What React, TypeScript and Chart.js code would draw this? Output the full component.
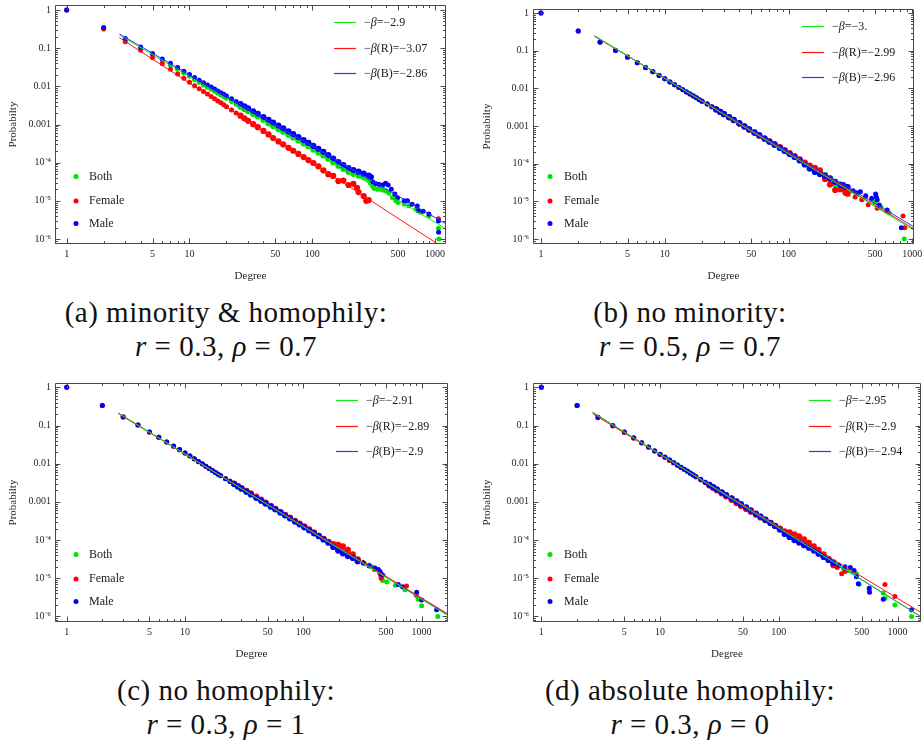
import { useEffect, useRef } from 'react';
import { Chart, registerables } from 'chart.js';

Chart.register(...registerables);

const FONT = '"Liberation Serif", serif';
const GREEN = 'rgb(0,226,0)';
const RED = 'rgb(255,0,0)';
const BLUE = 'rgb(0,0,255)';
const FIT_GREEN = 'rgb(20,230,20)';
const FIT_RED = 'rgb(255,20,20)';
const FIT_BLUE = 'rgb(50,50,255)';

const X_TICKS = [1, 5, 10, 50, 100, 500, 1000];
const X_TICK_LABELS = ['1', '5', '10', '50', '100', '500', '1000'];
const Y_TICKS = [1e-6, 1e-5, 1e-4, 0.001, 0.01, 0.1, 1];
const Y_TICK_LABELS = ['10\u207B\u2076', '10\u207B\u2075', '10\u207B\u2074', '0.001', '0.01', '0.1', '1'];
const SERIES_LABELS = ['Both', 'Female', 'Male'];

// shared degree grid for the dense body of every distribution
const K_GRID = [1, 2, 3, 4, 5, 6, 7, 8, 9, 10, 11, 12, 13, 14, 15, 16, 17, 18, 19, 20, 22, 24, 26, 28, 30, 33, 36, 40, 44, 48, 53, 58, 64, 70, 77, 85, 93, 102, 112, 123, 135, 148, 163, 179, 197, 216, 238, 262, 288];

// ---------- (a) minority & homophily ----------
const A_BOTH = [1.0, 0.33, 0.168, 0.10, 0.068, 0.047, 0.036, 0.028, 0.0223, 0.0183, 0.0149, 0.0126, 0.0109, 0.0095, 0.0084, 0.0074, 0.0066, 0.0059, 0.0054, 0.0049, 0.0040, 0.0034, 0.00293, 0.00255, 0.00225, 0.00189, 0.00162, 0.00133, 0.00108, 0.00092, 0.00076, 0.00065, 0.00054, 0.00046, 0.00038, 0.00032, 0.00027, 0.00022, 0.000184, 0.000154, 0.000126, 0.000102, 8.3e-5, 6.9e-5, 5.8e-5, 5.1e-5, 4.6e-5, 4.2e-5, 3.7e-5];
const A_FEMALE = [1.0, 0.32, 0.148, 0.088, 0.056, 0.039, 0.028, 0.021, 0.0163, 0.0128, 0.0104, 0.0087, 0.0073, 0.0063, 0.0054, 0.0047, 0.0041, 0.0037, 0.0033, 0.0029, 0.0024, 0.0020, 0.0017, 0.00145, 0.00125, 0.00102, 0.00085, 0.00068, 0.00055, 0.00044, 0.00036, 0.0003, 0.000245, 0.000205, 0.00017, 0.00014, 0.000117, 9.8e-5, 8.0e-5, 6.3e-5, 5.0e-5, 4.5e-5, 3.3e-5, 3.4e-5, 2.6e-5, 2.8e-5, 1.7e-5, 1.34e-5, 1.05e-5];
const A_MALE = [1.0, 0.35, 0.18, 0.107, 0.073, 0.052, 0.040, 0.031, 0.0248, 0.0203, 0.0171, 0.0145, 0.0125, 0.0109, 0.0096, 0.0085, 0.0076, 0.0068, 0.0062, 0.0056, 0.0047, 0.0040, 0.00345, 0.0030, 0.00265, 0.00222, 0.0019, 0.00157, 0.00132, 0.00112, 0.00093, 0.00079, 0.00066, 0.00056, 0.00047, 0.00039, 0.00033, 0.000275, 0.00023, 0.000192, 0.000158, 0.000128, 0.000104, 8.6e-5, 7.2e-5, 6.4e-5, 5.8e-5, 5.2e-5, 4.6e-5];
const A_BOTH_TAIL_K = [300, 310, 320, 340, 360, 380, 400, 420, 450, 480, 500, 560, 612, 700, 760, 890, 1065, 1075];
const A_BOTH_TAIL_P = [3.0e-5, 2.4e-5, 2.1e-5, 2.0e-5, 2.0e-5, 1.9e-5, 1.8e-5, 1.6e-5, 1.2e-5, 1.0e-5, 9.0e-6, 8.3e-6, 7.4e-6, 6.0e-6, 5.0e-6, 4.0e-6, 1.9e-6, 1.0e-6];
const A_FEMALE_TAIL_K = [231, 275, 1065];
const A_FEMALE_TAIL_P = [2.2e-5, 1.0e-5, 3.4e-6];
const A_MALE_TAIL_K = [300, 312, 330, 350, 375, 395, 415, 440, 470, 495, 560, 596, 650, 716, 730, 800, 890, 1065, 1068];
const A_MALE_TAIL_P = [4.2e-5, 3.1e-5, 2.8e-5, 2.7e-5, 2.6e-5, 2.9e-5, 2.6e-5, 2.0e-5, 1.5e-5, 1.2e-5, 1.0e-5, 1.0e-5, 8.2e-6, 7.3e-6, 5.5e-6, 5.3e-6, 4.5e-6, 2.95e-6, 1.5e-6];
const A_FIT_K = [2.69, 1343];
const A_FIT_FEMALE_K = [2.69, 1079];
const A_FIT_BOTH = [0.221, 1.56e-6];
const A_FIT_FEMALE = [0.188, 7.0e-7];
const A_FIT_MALE = [0.235, 2.1e-6];
const A_FIT_TEXT = ['\u22122.9', '\u22123.07', '\u22122.86'];

// ---------- (b) no minority ----------
const B_BOTH = [1.0, 0.335, 0.171, 0.1026, 0.0681, 0.0479, 0.0356, 0.0277, 0.022, 0.01795, 0.01486, 0.01247, 0.01064, 0.00918, 0.0080, 0.0071, 0.00632, 0.00564, 0.00505, 0.00457, 0.00387, 0.00325, 0.00277, 0.00239, 0.00208, 0.00172, 0.00145, 0.00118, 0.000975, 0.000818, 0.000673, 0.000562, 0.000462, 0.000386, 0.000321, 0.000263, 0.00022, 0.000182, 0.000152, 0.000126, 0.000105, 8.7e-5, 7.2e-5, 5.96e-5, 4.94e-5, 4.11e-5, 2.8e-5, 2.3e-5, 2.0e-5];
const B_FEMALE = [1.0, 0.335, 0.171, 0.1026, 0.0681, 0.0479, 0.0356, 0.0277, 0.022, 0.0179, 0.0148, 0.0124, 0.0106, 0.0091, 0.0080, 0.0071, 0.0063, 0.0056, 0.0050, 0.00455, 0.00385, 0.00323, 0.00275, 0.00237, 0.00206, 0.0017, 0.00143, 0.00116, 0.00096, 0.00080, 0.00066, 0.00055, 0.00046, 0.00039, 0.00033, 0.000275, 0.00023, 0.00019, 0.000158, 0.00013, 0.000107, 8.9e-5, 7.7e-5, 6.6e-5, 3.9e-5, 2.8e-5, 2.0e-5, 2.1e-5, 1.7e-5];
const B_MALE = [1.0, 0.335, 0.168, 0.101, 0.067, 0.0475, 0.0353, 0.0275, 0.0219, 0.0179, 0.0148, 0.0124, 0.0106, 0.0092, 0.0080, 0.0071, 0.0063, 0.0056, 0.0050, 0.00456, 0.00386, 0.00325, 0.00277, 0.00239, 0.00208, 0.00173, 0.00146, 0.00119, 0.00098, 0.00082, 0.00068, 0.00057, 0.000465, 0.000385, 0.00032, 0.000262, 0.000218, 0.00018, 0.00015, 0.000122, 9.5e-5, 7.4e-5, 6.0e-5, 5.3e-5, 4.8e-5, 4.0e-5, 3.3e-5, 2.8e-5, 2.4e-5];
const B_BOTH_TAIL_K = [320, 360, 420, 470, 500, 560, 650, 860];
const B_BOTH_TAIL_P = [1.9e-5, 1.6e-5, 1.3e-5, 1.1e-5, 9.5e-6, 7.0e-6, 5.0e-6, 1.0e-6];
const B_FEMALE_TAIL_K = [300, 345, 390, 440, 520, 620, 841, 870];
const B_FEMALE_TAIL_P = [1.6e-5, 1.3e-5, 1.1e-5, 8.1e-6, 6.5e-6, 5.5e-6, 4.1e-6, 2.0e-6];
const B_MALE_TAIL_K = [276, 300, 332, 352, 380, 420, 470, 505, 512, 520, 540, 625, 815];
const B_MALE_TAIL_P = [2.7e-5, 2.4e-5, 1.9e-5, 1.7e-5, 1.8e-5, 1.4e-5, 1.2e-5, 1.57e-5, 1.3e-5, 1.1e-5, 8.0e-6, 5.9e-6, 2.0e-6];
const B_FIT_K = [2.71, 1031];
const B_FIT_BOTH = [0.25, 1.7e-6];
const B_FIT_FEMALE = [0.245, 1.85e-6];
const B_FIT_MALE = [0.24, 2.1e-6];
const B_FIT_TEXT = ['\u22123.', '\u22122.99', '\u22122.96'];

// ---------- (c) no homophily ----------
const C_BOTH = [1.0, 0.335, 0.168, 0.1033, 0.0676, 0.049, 0.037, 0.0287, 0.0232, 0.019, 0.0158, 0.0133, 0.01127, 0.0098, 0.00859, 0.00743, 0.00662, 0.00594, 0.00535, 0.00485, 0.00406, 0.00344, 0.00295, 0.00256, 0.00225, 0.00187, 0.00159, 0.0013, 0.00109, 0.00092, 0.000764, 0.000644, 0.000533, 0.00045, 0.000376, 0.000311, 0.000262, 0.000219, 0.000184, 0.000154, 0.000129, 0.000108, 9.0e-5, 7.55e-5, 6.3e-5, 5.3e-5, 4.39e-5, 3.66e-5, 3.06e-5];
const C_FEMALE = [1.0, 0.335, 0.168, 0.103, 0.0675, 0.049, 0.037, 0.0287, 0.0232, 0.019, 0.0158, 0.0133, 0.0113, 0.0098, 0.0086, 0.0075, 0.0067, 0.006, 0.0054, 0.0049, 0.0041, 0.0035, 0.003, 0.0026, 0.0023, 0.00195, 0.00167, 0.00137, 0.00114, 0.00095, 0.00079, 0.00066, 0.00054, 0.00046, 0.00039, 0.00032, 0.00027, 0.000228, 0.000192, 0.000158, 0.000129, 0.000108, 9.0e-5, 7.8e-5, 7.5e-5, 6.8e-5, 5.5e-5, 4.2e-5, 3.1e-5];
const C_MALE = [1.0, 0.335, 0.167, 0.103, 0.0676, 0.049, 0.0372, 0.029, 0.0234, 0.0192, 0.016, 0.0134, 0.0114, 0.0099, 0.0086, 0.0075, 0.0066, 0.0059, 0.0053, 0.0048, 0.00403, 0.0034, 0.00292, 0.00253, 0.00222, 0.00185, 0.00157, 0.00128, 0.00107, 0.00091, 0.00075, 0.00064, 0.00053, 0.000445, 0.00037, 0.000305, 0.000258, 0.000216, 0.00018, 0.00015, 0.000126, 0.000104, 8.5e-5, 6.6e-5, 5.3e-5, 4.5e-5, 3.8e-5, 3.4e-5, 2.8e-5];
const C_BOTH_TAIL_K = [330, 380, 440, 468, 508, 600, 723, 935, 1000, 1370];
const C_BOTH_TAIL_P = [2.4e-5, 2.0e-5, 1.4e-5, 8.7e-6, 8.0e-6, 6.5e-6, 5.0e-6, 2.8e-6, 1.9e-6, 1.0e-6];
const C_FEMALE_TAIL_K = [321, 360, 400, 450, 455, 745, 900];
const C_FEMALE_TAIL_P = [2.6e-5, 2.2e-5, 1.7e-5, 1.2e-5, 1.0e-5, 6.3e-6, 3.6e-6];
const C_MALE_TAIL_K = [321, 360, 403, 430, 445, 455, 470, 635, 690, 908, 1000, 1339];
const C_MALE_TAIL_P = [2.5e-5, 2.1e-5, 1.85e-5, 1.7e-5, 1.5e-5, 1.3e-5, 1.2e-5, 6.8e-6, 6.0e-6, 4.3e-6, 2.7e-6, 1.5e-6];
const C_FIT_K = [2.73, 1671];
const C_FIT_BOTH = [0.213, 1.05e-6];
const C_FIT_FEMALE = [0.205, 1.15e-6];
const C_FIT_MALE = [0.21, 1.1e-6];
const C_FIT_TEXT = ['\u22122.91', '\u22122.89', '\u22122.9'];

// ---------- (d) absolute homophily ----------
const D_BOTH = [1.0, 0.335, 0.164, 0.099, 0.0675, 0.0474, 0.0352, 0.0272, 0.0216, 0.0176, 0.0147, 0.0124, 0.0106, 0.0092, 0.00805, 0.00711, 0.00634, 0.00566, 0.00509, 0.00461, 0.00385, 0.00325, 0.00278, 0.00241, 0.00211, 0.00175, 0.00148, 0.00121, 0.00101, 0.000849, 0.000701, 0.00059, 0.000488, 0.000409, 0.000341, 0.000282, 0.000237, 0.000197, 0.000165, 0.000137, 0.000115, 9.6e-5, 7.98e-5, 6.65e-5, 5.55e-5, 4.63e-5, 3.83e-5, 3.19e-5, 2.66e-5];
const D_FEMALE = [1.0, 0.335, 0.16, 0.097, 0.066, 0.0465, 0.0346, 0.0268, 0.0213, 0.0174, 0.0145, 0.0122, 0.0104, 0.009, 0.0079, 0.007, 0.0062, 0.0055, 0.005, 0.0045, 0.00376, 0.00317, 0.0027, 0.00233, 0.00203, 0.00167, 0.0014, 0.00113, 0.00093, 0.00078, 0.00065, 0.00055, 0.00046, 0.00039, 0.00033, 0.000278, 0.000236, 0.000198, 0.00017, 0.00016, 0.00014, 0.000125, 0.000105, 8.4e-5, 6.8e-5, 5.5e-5, 4.2e-5, 3.2e-5, 2.2e-5];
const D_MALE = [1.0, 0.335, 0.165, 0.1, 0.068, 0.0478, 0.0355, 0.0275, 0.0218, 0.0178, 0.0149, 0.0126, 0.0107, 0.0093, 0.0081, 0.0072, 0.0064, 0.0057, 0.0051, 0.00465, 0.00389, 0.00328, 0.0028, 0.00243, 0.00213, 0.00177, 0.0015, 0.00123, 0.00103, 0.00087, 0.00072, 0.0006, 0.000495, 0.000412, 0.000342, 0.00028, 0.000233, 0.000188, 0.000145, 0.00012, 0.0001, 8.6e-5, 7.3e-5, 6.3e-5, 5.3e-5, 4.4e-5, 3.6e-5, 3.0e-5, 2.5e-5];
const D_BOTH_TAIL_K = [320, 350, 380, 420, 450, 475, 577, 757, 783, 949, 1310];
const D_BOTH_TAIL_P = [2.1e-5, 1.8e-5, 1.6e-5, 1.5e-5, 1.3e-5, 7.0e-6, 4.9e-6, 4.1e-6, 3.0e-6, 2.0e-6, 1.0e-6];
const D_FEMALE_TAIL_K = [310, 338, 360, 783, 949];
const D_FEMALE_TAIL_P = [1.9e-5, 1.3e-5, 1.5e-5, 6.8e-6, 3.3e-6];
const D_MALE_TAIL_K = [320, 360, 400, 430, 450, 467, 577, 580, 757, 1310];
const D_MALE_TAIL_P = [2.2e-5, 2.0e-5, 1.9e-5, 1.6e-5, 1.1e-5, 7.2e-6, 5.5e-6, 4.3e-6, 2.8e-6, 1.5e-6];
const D_FIT_K = [2.7, 1571];
const D_FIT_BOTH = [0.225, 1.0e-6];
const D_FIT_FEMALE = [0.204, 1.27e-6];
const D_FIT_MALE = [0.221, 0.98e-6];
const D_FIT_TEXT = ['\u22122.95', '\u22122.9', '\u22122.94'];

type Pt = { x: number; y: number };
const pts = (ks: number[], ps: number[]): Pt[] => ks.map((k, i) => ({ x: k, y: ps[i] }));

type Spec = {
  left: number; top: number; width: number; height: number;
  yAxisWidth: number; padTop: number; padRight: number;
  xMin: number; xMax: number; yMin: number; yMax: number;
  dotX: number; textX: number;
  both: Pt[]; female: Pt[]; male: Pt[];
  fitBoth: Pt[]; fitFemale: Pt[]; fitMale: Pt[];
  fitText: string[];
};

const SPECS: Spec[] = [
  {
    left: 0, top: 0, width: 452, height: 285, yAxisWidth: 55, padTop: 5, padRight: 6,
    xMin: 0.803, xMax: 1227, yMin: 7.4e-7, yMax: 1.352, dotX: 21, textX: 34,
    both: [...pts(K_GRID, A_BOTH), ...pts(A_BOTH_TAIL_K, A_BOTH_TAIL_P)],
    female: [...pts(K_GRID, A_FEMALE), ...pts(A_FEMALE_TAIL_K, A_FEMALE_TAIL_P)],
    male: [...pts(K_GRID, A_MALE), ...pts(A_MALE_TAIL_K, A_MALE_TAIL_P)],
    fitBoth: pts(A_FIT_K, A_FIT_BOTH), fitFemale: pts(A_FIT_FEMALE_K, A_FIT_FEMALE), fitMale: pts(A_FIT_K, A_FIT_MALE),
    fitText: A_FIT_TEXT,
  },
  {
    left: 474, top: 0, width: 450, height: 285, yAxisWidth: 59, padTop: 9, padRight: 10,
    xMin: 0.862, xMax: 1031, yMin: 7.36e-7, yMax: 1.277, dotX: 17, textX: 31,
    both: [...pts(K_GRID, B_BOTH), ...pts(B_BOTH_TAIL_K, B_BOTH_TAIL_P)],
    female: [...pts(K_GRID, B_FEMALE), ...pts(B_FEMALE_TAIL_K, B_FEMALE_TAIL_P)],
    male: [...pts(K_GRID, B_MALE), ...pts(B_MALE_TAIL_K, B_MALE_TAIL_P)],
    fitBoth: pts(B_FIT_K, B_FIT_BOTH), fitFemale: pts(B_FIT_K, B_FIT_FEMALE), fitMale: pts(B_FIT_K, B_FIT_MALE),
    fitText: B_FIT_TEXT,
  },
  {
    left: 0, top: 378, width: 452, height: 285, yAxisWidth: 55, padTop: 5, padRight: 4,
    xMin: 0.796, xMax: 1671, yMin: 7.13e-7, yMax: 1.30, dotX: 21, textX: 34,
    both: [...pts(K_GRID, C_BOTH), ...pts(C_BOTH_TAIL_K, C_BOTH_TAIL_P)],
    female: [...pts(K_GRID, C_FEMALE), ...pts(C_FEMALE_TAIL_K, C_FEMALE_TAIL_P)],
    male: [...pts(K_GRID, C_MALE), ...pts(C_MALE_TAIL_K, C_MALE_TAIL_P)],
    fitBoth: pts(C_FIT_K, C_FIT_BOTH), fitFemale: pts(C_FIT_K, C_FIT_FEMALE), fitMale: pts(C_FIT_K, C_FIT_MALE),
    fitText: C_FIT_TEXT,
  },
  {
    left: 474, top: 378, width: 450, height: 285, yAxisWidth: 59, padTop: 5, padRight: 3,
    xMin: 0.851, xMax: 1571, yMin: 7.13e-7, yMax: 1.30, dotX: 17, textX: 31,
    both: [...pts(K_GRID, D_BOTH), ...pts(D_BOTH_TAIL_K, D_BOTH_TAIL_P)],
    female: [...pts(K_GRID, D_FEMALE), ...pts(D_FEMALE_TAIL_K, D_FEMALE_TAIL_P)],
    male: [...pts(K_GRID, D_MALE), ...pts(D_MALE_TAIL_K, D_MALE_TAIL_P)],
    fitBoth: pts(D_FIT_K, D_FIT_BOTH), fitFemale: pts(D_FIT_K, D_FIT_FEMALE), fitMale: pts(D_FIT_K, D_FIT_MALE),
    fitText: D_FIT_TEXT,
  },
];

const framePlugin = {
  id: 'mmaFrame',
  afterDraw(chart: any) {
    const { ctx, chartArea: a } = chart;
    const xs = chart.scales.x;
    const ys = chart.scales.y;
    const L = Math.round(a.left) + 0.5;
    const R = Math.round(a.right) - 0.5;
    const T = Math.round(a.top) + 0.5;
    const B = Math.round(a.bottom) - 0.5;
    ctx.save();
    ctx.strokeStyle = '#4a4a4a';
    ctx.lineWidth = 1;
    ctx.beginPath();
    ctx.moveTo(L, T); ctx.lineTo(R, T); ctx.lineTo(R, B); ctx.lineTo(L, B); ctx.closePath();
    for (const d of [1, 10, 100, 1000]) {
      for (let m = 1; m <= 9; m++) {
        const v = d * m;
        if (v < xs.min || v > xs.max) continue;
        const len = X_TICKS.includes(v) ? 5 : 2.5;
        const px = Math.round(xs.getPixelForValue(v)) + 0.5;
        ctx.moveTo(px, B); ctx.lineTo(px, B - len);
        ctx.moveTo(px, T); ctx.lineTo(px, T + len);
      }
    }
    for (let e = -7; e <= 0; e++) {
      for (let m = 1; m <= 9; m++) {
        const v = m * Math.pow(10, e);
        if (v < ys.min || v > ys.max) continue;
        const len = m === 1 ? 5 : 2.5;
        const py = Math.round(ys.getPixelForValue(v)) + 0.5;
        ctx.moveTo(L, py); ctx.lineTo(L + len, py);
        ctx.moveTo(R, py); ctx.lineTo(R - len, py);
      }
    }
    ctx.stroke();
    ctx.restore();
  },
};

function makeLegendPlugin(spec: Spec) {
  return {
    id: 'panelLegend',
    afterDraw(chart: any) {
      const { ctx, chartArea: a } = chart;
      ctx.save();
      ctx.textBaseline = 'middle';
      const fitColors = [FIT_GREEN, FIT_RED, FIT_BLUE];
      const suffix = ['', '(R)', '(B)'];
      const rows = [17, 42.5, 67.5];
      for (let i = 0; i < 3; i++) {
        const y = Math.round(a.top + rows[i]) + 0.5;
        ctx.strokeStyle = fitColors[i];
        ctx.lineWidth = 1.2;
        ctx.beginPath();
        ctx.moveTo(a.right - 112, y);
        ctx.lineTo(a.right - 90, y);
        ctx.stroke();
        ctx.fillStyle = '#1a1a1a';
        let x = a.right - 82;
        ctx.font = `12px ${FONT}`;
        ctx.fillText('\u2212', x, y);
        x += ctx.measureText('\u2212').width;
        ctx.font = `italic 12px ${FONT}`;
        ctx.fillText('\u03B2', x, y);
        x += ctx.measureText('\u03B2').width;
        ctx.font = `12px ${FONT}`;
        ctx.fillText(suffix[i] + '=' + spec.fitText[i], x, y);
      }
      const dotColors = [GREEN, RED, BLUE];
      const drows = [67.5, 43, 20.5];
      for (let i = 0; i < 3; i++) {
        const y = a.bottom - drows[i];
        ctx.fillStyle = dotColors[i];
        ctx.beginPath();
        ctx.arc(a.left + spec.dotX, y, 2.5, 0, Math.PI * 2);
        ctx.fill();
        ctx.fillStyle = '#1a1a1a';
        ctx.font = `12px ${FONT}`;
        ctx.fillText(SERIES_LABELS[i], a.left + spec.textX, y);
      }
      ctx.restore();
    },
  };
}

// marker size: slightly larger where the measured degrees are densely packed
const markerRadius = (c: any) => {
  const k = c.raw && typeof c.raw.x === 'number' ? c.raw.x : 0;
  return k >= 26 && k <= 300 ? 3.1 : 2.5;
};

function Panel({ spec }: { spec: Spec }) {
  const ref = useRef<HTMLCanvasElement | null>(null);
  useEffect(() => {
    const canvas = ref.current;
    if (!canvas) return;
    const scatter = (label: string, color: string, data: Pt[], order: number) => ({
      label, data, order,
      backgroundColor: color, borderColor: color,
      pointBackgroundColor: color, pointBorderWidth: 0,
      pointRadius: markerRadius, pointHoverRadius: markerRadius, showLine: false,
    });
    const fit = (label: string, color: string, data: Pt[]) => ({
      label, data, order: 0,
      borderColor: color, backgroundColor: color, borderWidth: 1,
      pointRadius: 0, pointHoverRadius: 0, showLine: true, fill: false,
    });
    const tickFont = { family: FONT, size: 10 };
    const titleFont = { family: FONT, size: 11 };
    const chart = new Chart(canvas, {
      type: 'scatter',
      data: {
        datasets: [
          fit('fit Both', FIT_GREEN, spec.fitBoth),
          fit('fit Female', FIT_RED, spec.fitFemale),
          fit('fit Male', FIT_BLUE, spec.fitMale),
          scatter('Male', BLUE, spec.male, 1),
          scatter('Female', RED, spec.female, 2),
          scatter('Both', GREEN, spec.both, 3),
        ] as any,
      },
      options: {
        animation: false,
        responsive: false,
        events: [],
        layout: { padding: { top: spec.padTop, right: spec.padRight, left: 0, bottom: 0 } },
        plugins: { legend: { display: false }, tooltip: { enabled: false } },
        scales: {
          x: {
            type: 'logarithmic',
            position: 'bottom',
            min: spec.xMin,
            max: spec.xMax,
            afterBuildTicks: (s: any) => { s.ticks = X_TICKS.map((v) => ({ value: v })); },
            afterFit: (s: any) => { s.height = 41; s.paddingLeft = 0; s.paddingRight = 0; },
            ticks: {
              callback: (_v: any, i: number) => X_TICK_LABELS[i],
              autoSkip: false, maxRotation: 0, minRotation: 0, padding: 4,
              font: tickFont, color: '#262626',
            },
            grid: { display: false, drawTicks: false },
            border: { display: false },
            title: { display: true, text: 'Degree', font: titleFont, color: '#262626', padding: { top: 0, bottom: 2 } },
          },
          y: {
            type: 'logarithmic',
            position: 'left',
            min: spec.yMin,
            max: spec.yMax,
            afterBuildTicks: (s: any) => { s.ticks = Y_TICKS.map((v) => ({ value: v })); },
            afterFit: (s: any) => { s.width = spec.yAxisWidth; s.paddingTop = 0; s.paddingBottom = 0; },
            ticks: {
              callback: (_v: any, i: number) => Y_TICK_LABELS[i],
              autoSkip: false, padding: 4,
              font: tickFont, color: '#262626',
            },
            grid: { display: false, drawTicks: false },
            border: { display: false },
            title: { display: true, text: 'Probabilty', font: titleFont, color: '#262626', padding: { top: 6.5, bottom: 0 } },
          },
        },
      } as any,
      plugins: [framePlugin, makeLegendPlugin(spec)],
    });
    return () => chart.destroy();
  }, [spec]);
  return (
    <canvas
      ref={ref}
      width={spec.width}
      height={spec.height}
      style={{ position: 'absolute', left: spec.left, top: spec.top, width: spec.width, height: spec.height, display: 'block' }}
    />
  );
}

const CAPTIONS = [
  { left: 0, top: 295, title: '(a) minority & homophily:', r: '0.3', rho: '0.7' },
  { left: 464, top: 295, title: '(b) no minority:', r: '0.5', rho: '0.7' },
  { left: 0, top: 673, title: '(c) no homophily:', r: '0.3', rho: '1' },
  { left: 464, top: 673, title: '(d) absolute homophily:', r: '0.3', rho: '0' },
];

export default function App() {
  return (
    <div style={{ position: 'absolute', left: 0, top: 0, width: 924, height: 742, background: '#ffffff', overflow: 'hidden' }}>
      {SPECS.map((s, i) => (
        <Panel key={i} spec={s} />
      ))}
      {CAPTIONS.map((c, i) => (
        <div
          key={'c' + i}
          style={{
            position: 'absolute', left: c.left, top: c.top, width: 452, textAlign: 'center',
            fontFamily: FONT, fontSize: 29, lineHeight: '34px', letterSpacing: 0.5, color: '#111',
            whiteSpace: 'nowrap',
          }}
        >
          <div>{c.title}</div>
          <div>
            <i>r</i>&nbsp;=&nbsp;{c.r},&nbsp;<i>{'\u03C1'}</i>&nbsp;=&nbsp;{c.rho}
          </div>
        </div>
      ))}
    </div>
  );
}
